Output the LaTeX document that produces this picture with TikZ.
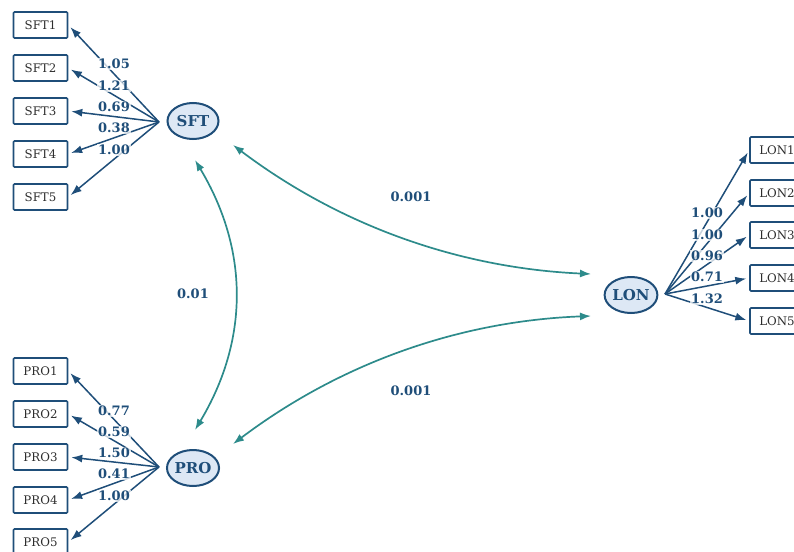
\documentclass[tikz,border=0pt]{standalone}
\usepackage{fontspec}
\setmainfont{DejaVu Serif}
\usetikzlibrary{arrows.meta,shapes.geometric}
\definecolor{dblue}{RGB}{31,78,121}
\definecolor{teal2}{RGB}{45,139,139}
\definecolor{efill}{RGB}{221,232,245}
\definecolor{tgray}{RGB}{45,45,45}
\begin{document}
\begin{tikzpicture}[x=1pt,y=-1pt,
  obs/.style={draw=dblue,line width=1.6pt,minimum width=54pt,minimum height=26pt,inner sep=0pt,text=tgray,font=\fontsize{11.8}{13}\selectfont,rounded corners=1pt},
  lat/.style={ellipse,draw=dblue,line width=2pt,fill=efill,minimum width=51pt,minimum height=36pt,inner sep=0pt,text=dblue,font=\bfseries\fontsize{15}{17}\selectfont},
  load/.style={draw=dblue,line width=1.5pt,-{Latex[length=11pt,width=8pt]},shorten >=3pt},
  cov/.style={draw=teal2,line width=1.7pt,{Latex[length=11pt,width=8pt]}-{Latex[length=11pt,width=8pt]}},
  lab/.style={text=dblue,font=\bfseries\fontsize{13}{15}\selectfont,fill=white,fill opacity=0.75,text opacity=1,inner sep=1pt},
  clab/.style={text=dblue,font=\bfseries\fontsize{13}{15}\selectfont,inner sep=1pt}]
\useasboundingbox (0,0) rectangle (794,551);
\clip (0,0) rectangle (794,551);
% observed boxes
\foreach \i/\y in {1/25,2/68,3/111,4/154,5/197}{\node[obs] (SFT\i) at (40.5,\y) {SFT\i};}
\foreach \i/\y in {1/371,2/414,3/457,4/500,5/542}{\node[obs] (PRO\i) at (40.5,\y) {PRO\i};}
\foreach \i/\y in {1/150,2/193,3/235,4/278,5/321}{\node[obs] (LON\i) at (777,\y) {LON\i};}
% latent
\node[lat] (SFT) at (193,121) {SFT};
\node[lat] (PRO) at (193,468) {PRO};
\node[lat] (LON) at (631,295) {LON};
\coordinate (sS) at (159,122);
\coordinate (sP) at (159,467);
\coordinate (sL) at (665,294);
% loadings
\foreach \i in {1,...,5}{
  \draw[load] (sS) -- (SFT\i.east);
  \draw[load] (sP) -- (PRO\i.east);
  \draw[load] (sL) -- (LON\i.west);
}
\node[lab] at (114,64) {1.05};
\node[lab] at (114,86) {1.21};
\node[lab] at (114,107) {0.69};
\node[lab] at (114,128) {0.38};
\node[lab] at (114,150) {1.00};
\node[lab] at (114,411) {0.77};
\node[lab] at (114,432) {0.59};
\node[lab] at (114,453) {1.50};
\node[lab] at (114,474) {0.41};
\node[lab] at (114,496) {1.00};
\node[lab] at (707,213) {1.00};
\node[lab] at (707,235) {1.00};
\node[lab] at (707,256) {0.96};
\node[lab] at (707,277) {0.71};
\node[lab] at (707,299) {1.32};
% covariances
\coordinate (c1a) at (195,160);
\coordinate (c1b) at (195,430);
\draw[cov] (c1a) .. controls (249,250) and (249,340) .. (c1b);
\coordinate (c2a) at (233,145);
\coordinate (c2b) at (591,274);
\draw[cov] (c2a) .. controls (339,225) and (458,268) .. (c2b);
\coordinate (c3a) at (233,444);
\coordinate (c3b) at (591,316);
\draw[cov] (c3a) .. controls (339,364) and (458,321) .. (c3b);
\node[clab] at (193,294) {0.01};
\node[clab] at (411,197) {0.001};
\node[clab] at (411,391) {0.001};
\end{tikzpicture}
\end{document}
